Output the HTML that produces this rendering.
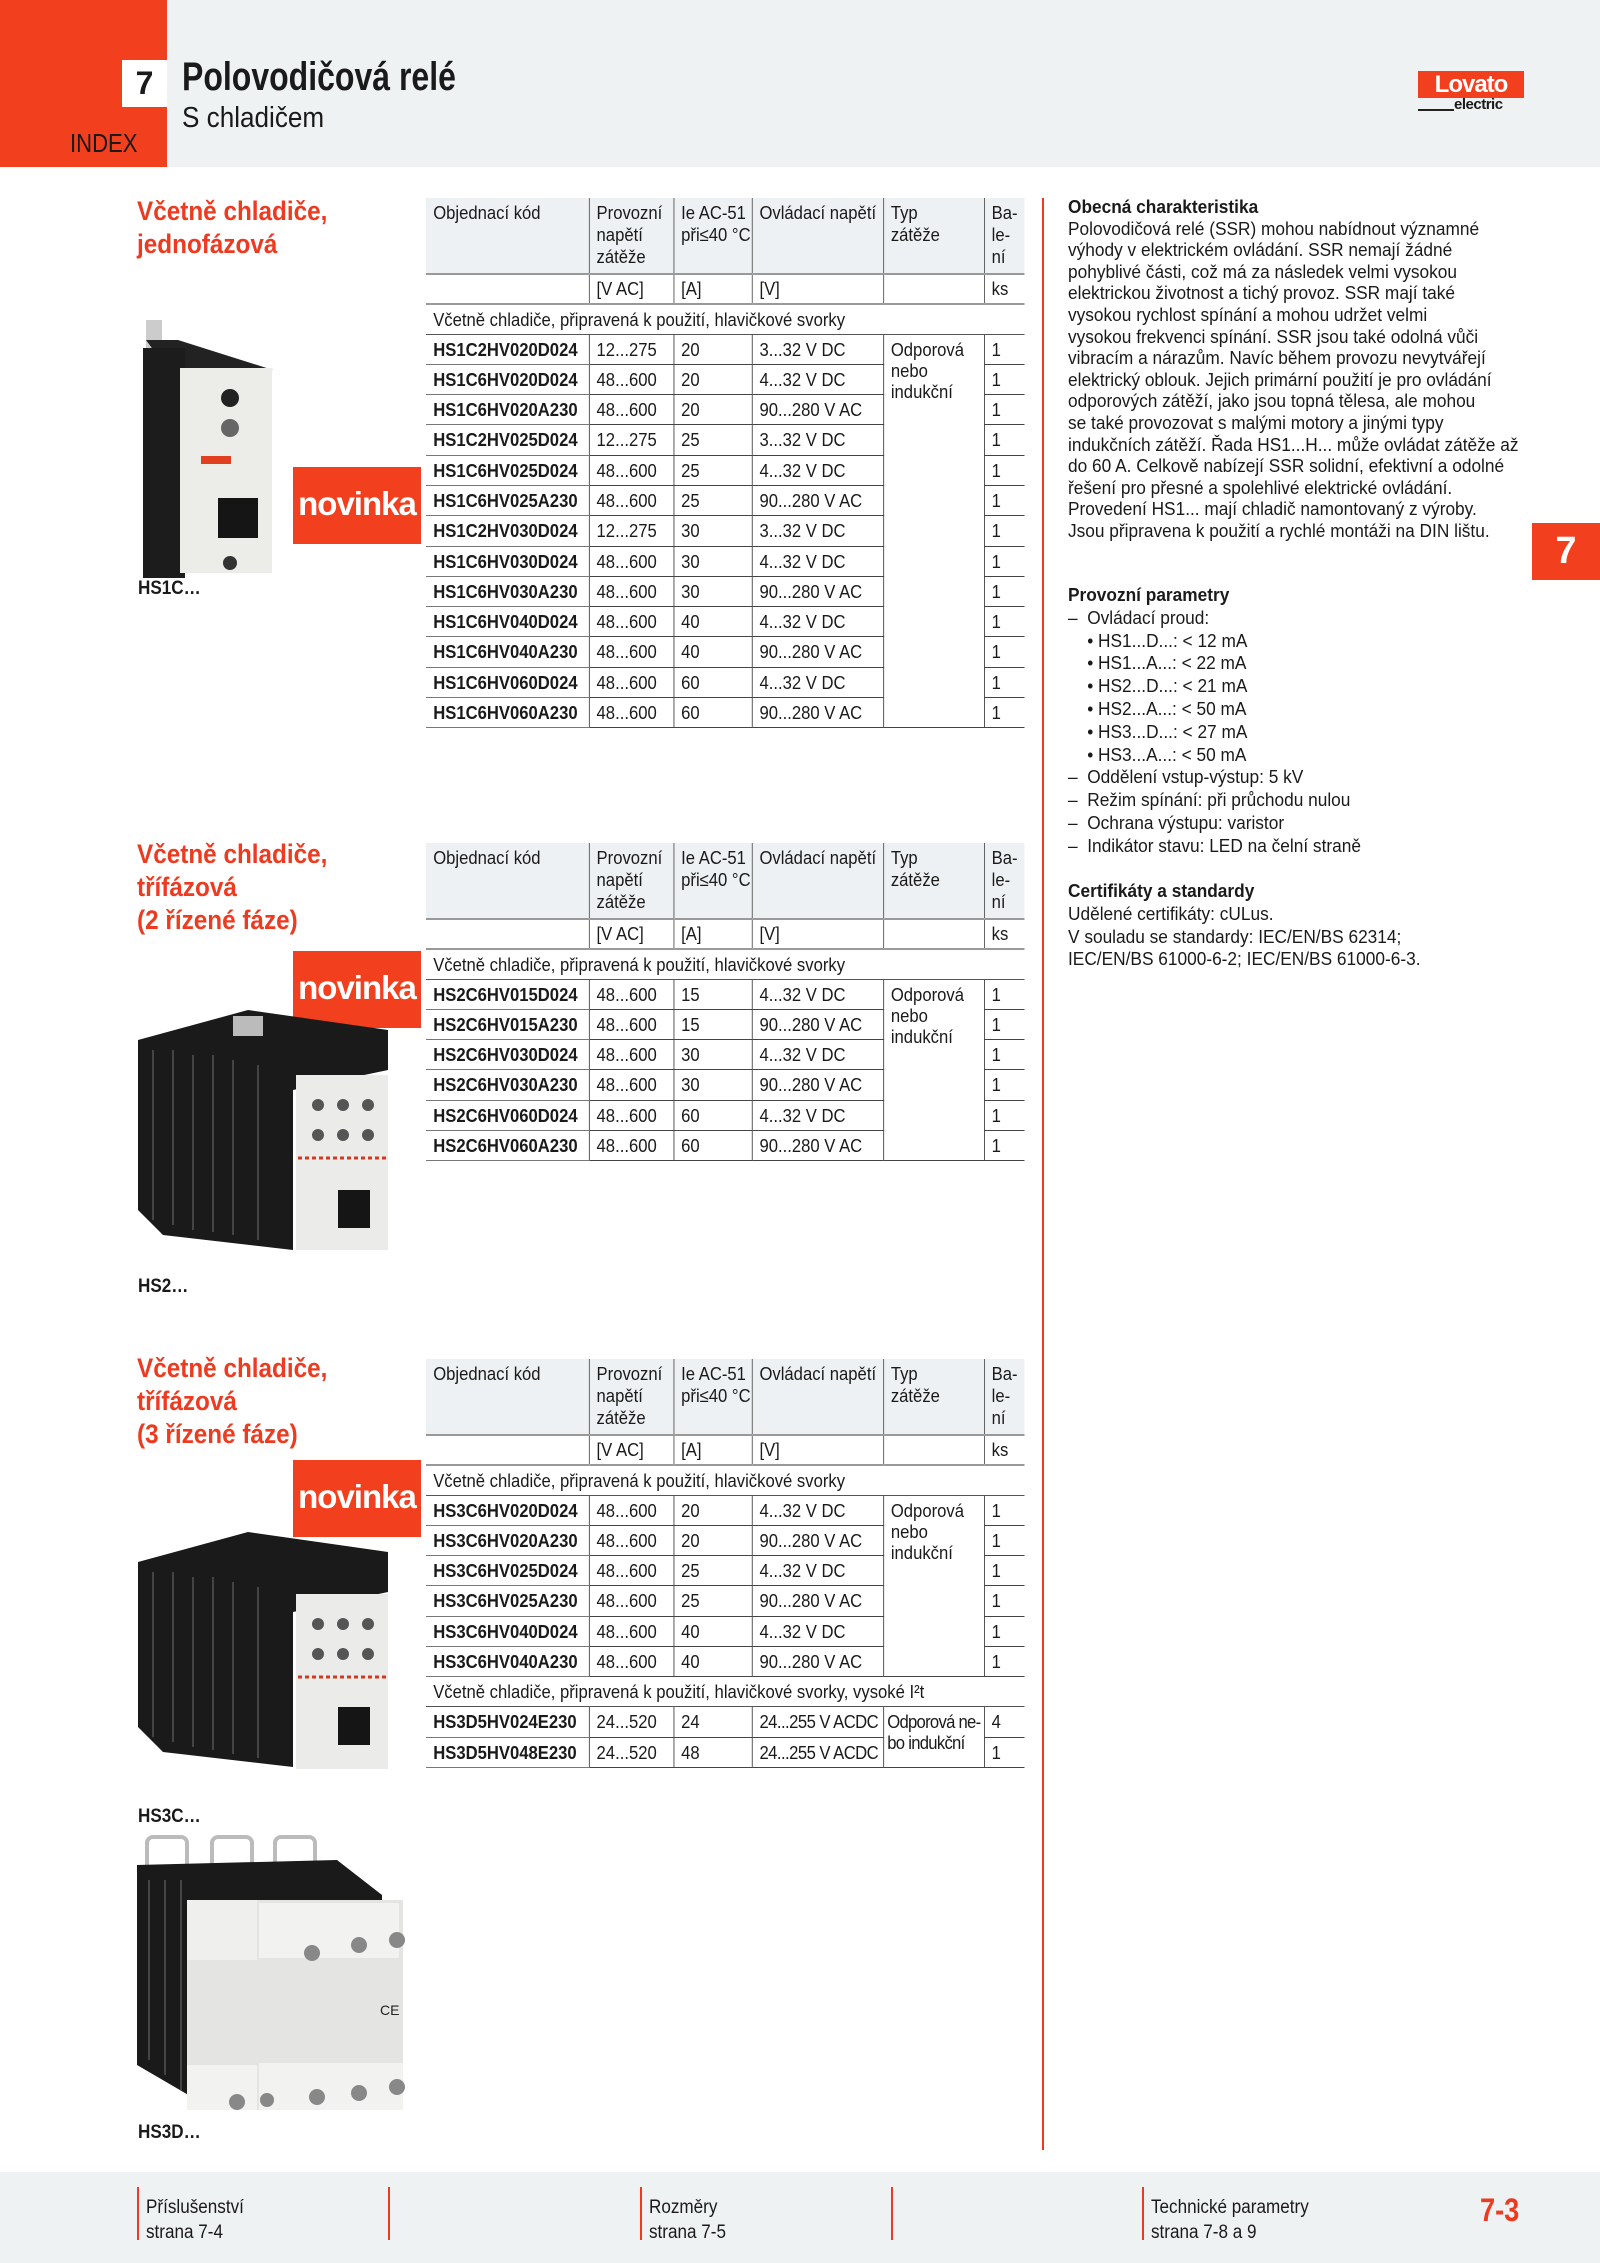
<!DOCTYPE html>
<html><head><meta charset="utf-8">
<style>
*{margin:0;padding:0;box-sizing:border-box}
body{width:1600px;height:2263px;position:relative;background:#fff;font-family:"Liberation Sans",sans-serif;color:#1a1a1a;overflow:hidden}
.a{position:absolute}
.sx{transform-origin:0 0;white-space:nowrap}
.h2{position:absolute;left:137px;font-weight:bold;font-size:27px;line-height:33px;color:#ee3a1f;transform:scaleX(.9);transform-origin:0 0;white-space:nowrap}
.nov{position:absolute;left:293px;width:128px;height:77px;background:#f2401e;color:#fff;font-weight:bold;font-size:33px;text-align:center;line-height:74px;letter-spacing:-1px}
.lbl{position:absolute;left:138px;font-weight:bold;font-size:19px;transform:scaleX(.9);transform-origin:0 0}
table{position:absolute;left:426px;width:665px;border-collapse:collapse;font-size:18.5px;table-layout:fixed;transform:scaleX(.9);transform-origin:0 0}
td{padding:0 0 0 8px;vertical-align:top;line-height:22px;white-space:nowrap;overflow:visible}
tr.hd td{background:#eef1f3;height:76px;padding-top:4px;border-right:1.5px solid #555;line-height:22px}
tr.hd td:last-child,tr.un td:last-child{border-right:none}
tr.un td{height:30px;border-top:2.5px solid #999;border-bottom:2.5px solid #999;border-right:1.5px solid #555;padding-top:3px}
tr.sec td{height:30px;border-bottom:1.5px solid #555;padding-top:4px}
tr.r td{height:30.3px;border-bottom:1.5px solid #444;border-right:1.5px solid #444;padding-top:4px}
tr.r td:last-child{border-right:none}
tr.r td.c{font-weight:bold;border-bottom:1.5px solid #777}
td.typ{line-height:21px;padding-top:5px}
.rt{position:absolute;left:1068px;font-size:18px;line-height:21.6px;white-space:nowrap;transform:scaleX(.96);transform-origin:0 0}
.rt2{position:absolute;left:1068px;font-size:18px;line-height:22.8px;white-space:nowrap;transform:scaleX(.96);transform-origin:0 0}
.b{font-weight:bold}
.ft{position:absolute;top:2195px;font-size:19px;line-height:25px;transform:scaleX(.9);transform-origin:0 0;white-space:nowrap}
.fl{position:absolute;top:2187px;width:1.5px;height:53px;background:#ee3a1f}
</style></head><body>
<!-- header -->
<div class="a" style="left:0;top:0;width:1600px;height:167px;background:#eff2f3"></div>
<div class="a" style="left:0;top:0;width:167px;height:167px;background:#f2401e"></div>
<div class="a" style="left:122px;top:60px;width:45px;height:47px;background:#fff;font-weight:bold;font-size:32px;line-height:47px;text-align:center">7</div>
<div class="a" style="left:70px;top:128px;font-size:26px;transform:scaleX(.85);transform-origin:0 0">INDEX</div>
<div class="a sx" style="left:182px;top:55px;font-weight:bold;font-size:40px;transform:scaleX(.8)">Polovodičová relé</div>
<div class="a sx" style="left:182px;top:102px;font-size:29px;transform:scaleX(.9)">S chladičem</div>
<div class="a" style="left:1418px;top:71px;width:106px;height:27px;background:#f2401e;color:#fff;font-weight:bold;font-size:24px;line-height:27px;text-align:center;letter-spacing:-1px">Lovato</div>
<div class="a" style="left:1418px;top:109px;width:36px;height:1.5px;background:#222"></div>
<div class="a" style="left:1454px;top:96px;font-weight:bold;font-size:15px;letter-spacing:-.5px">electric</div>

<!-- side tab & divider -->
<div class="a" style="left:1042px;top:198px;width:2px;height:1952px;background:#ee3a1f"></div>
<div class="a" style="left:1532px;top:523px;width:68px;height:57px;background:#f2401e;color:#fff;font-weight:bold;font-size:38px;text-align:center;line-height:57px">7</div>

<!-- section 1 -->
<div class="h2" style="top:195px">Včetně chladiče,<br>jednofázová</div>
<svg class="a" style="left:138px;top:318px" width="140" height="260">
<rect x="8" y="2" width="16" height="30" fill="#ccc"/>
<polygon points="8,22 40,22 135,52 30,52" fill="#222"/>
<rect x="5" y="30" width="42" height="230" fill="#1c1c1c"/>
<rect x="42" y="50" width="92" height="205" fill="#ecece8"/>
<circle cx="92" cy="80" r="9" fill="#222"/><circle cx="92" cy="110" r="9" fill="#666"/>
<rect x="63" y="138" width="30" height="8" fill="#e04020"/>
<rect x="80" y="180" width="40" height="40" fill="#151515"/>
<circle cx="92" cy="245" r="7" fill="#333"/>
</svg>
<div class="nov" style="top:467px">novinka</div>
<div class="lbl" style="top:578px">HS1C…</div>

<table style="top:198px">
<colgroup><col style="width:181px"><col style="width:94px"><col style="width:87px"><col style="width:146px"><col style="width:112px"><col style="width:45px"></colgroup>
<tr class="hd"><td>Objednací kód</td><td>Provozní<br>napětí<br>zátěže</td><td>Ie AC-51<br>při≤40 °C</td><td>Ovládací napětí</td><td>Typ<br>zátěže</td><td>Ba-<br>le-<br>ní</td></tr>
<tr class="un"><td></td><td>[V AC]</td><td>[A]</td><td>[V]</td><td></td><td>ks</td></tr>
<tr class="sec"><td colspan="6">Včetně chladiče, připravená k použití, hlavičkové svorky</td></tr>
<tr class="r"><td class="c">HS1C2HV020D024</td><td>12...275</td><td>20</td><td>3...32 V DC</td><td class="typ" rowspan="13">Odporová<br>nebo<br>indukční</td><td>1</td></tr>
<tr class="r"><td class="c">HS1C6HV020D024</td><td>48...600</td><td>20</td><td>4...32 V DC</td><td>1</td></tr>
<tr class="r"><td class="c">HS1C6HV020A230</td><td>48...600</td><td>20</td><td>90...280 V AC</td><td>1</td></tr>
<tr class="r"><td class="c">HS1C2HV025D024</td><td>12...275</td><td>25</td><td>3...32 V DC</td><td>1</td></tr>
<tr class="r"><td class="c">HS1C6HV025D024</td><td>48...600</td><td>25</td><td>4...32 V DC</td><td>1</td></tr>
<tr class="r"><td class="c">HS1C6HV025A230</td><td>48...600</td><td>25</td><td>90...280 V AC</td><td>1</td></tr>
<tr class="r"><td class="c">HS1C2HV030D024</td><td>12...275</td><td>30</td><td>3...32 V DC</td><td>1</td></tr>
<tr class="r"><td class="c">HS1C6HV030D024</td><td>48...600</td><td>30</td><td>4...32 V DC</td><td>1</td></tr>
<tr class="r"><td class="c">HS1C6HV030A230</td><td>48...600</td><td>30</td><td>90...280 V AC</td><td>1</td></tr>
<tr class="r"><td class="c">HS1C6HV040D024</td><td>48...600</td><td>40</td><td>4...32 V DC</td><td>1</td></tr>
<tr class="r"><td class="c">HS1C6HV040A230</td><td>48...600</td><td>40</td><td>90...280 V AC</td><td>1</td></tr>
<tr class="r"><td class="c">HS1C6HV060D024</td><td>48...600</td><td>60</td><td>4...32 V DC</td><td>1</td></tr>
<tr class="r"><td class="c">HS1C6HV060A230</td><td>48...600</td><td>60</td><td>90...280 V AC</td><td>1</td></tr>
</table>

<!-- section 2 -->
<div class="h2" style="top:838px">Včetně chladiče,<br>třífázová<br>(2 řízené fáze)</div>
<div class="nov" style="top:951px">novinka</div>
<svg class="a" style="left:138px;top:1010px" width="260" height="245">
<polygon points="0,30 110,0 250,20 250,60 155,80 155,240 25,225 0,200" fill="#1a1a1a"/>
<g stroke="#444" stroke-width="2"><line x1="15" y1="40" x2="15" y2="210"/><line x1="35" y1="40" x2="35" y2="215"/><line x1="55" y1="45" x2="55" y2="220"/><line x1="75" y1="45" x2="75" y2="222"/><line x1="95" y1="50" x2="95" y2="225"/><line x1="120" y1="55" x2="120" y2="230"/></g>
<rect x="95" y="6" width="30" height="20" fill="#bbb"/>
<rect x="158" y="65" width="92" height="175" fill="#ebebea"/>
<g fill="#555"><circle cx="180" cy="95" r="6"/><circle cx="205" cy="95" r="6"/><circle cx="230" cy="95" r="6"/><circle cx="180" cy="125" r="6"/><circle cx="205" cy="125" r="6"/><circle cx="230" cy="125" r="6"/></g>
<line x1="160" y1="148" x2="250" y2="148" stroke="#d03a20" stroke-width="3" stroke-dasharray="4 3"/>
<rect x="200" y="180" width="32" height="38" fill="#151515"/>
</svg>
<div class="lbl" style="top:1276px">HS2…</div>

<table style="top:843px">
<colgroup><col style="width:181px"><col style="width:94px"><col style="width:87px"><col style="width:146px"><col style="width:112px"><col style="width:45px"></colgroup>
<tr class="hd"><td>Objednací kód</td><td>Provozní<br>napětí<br>zátěže</td><td>Ie AC-51<br>při≤40 °C</td><td>Ovládací napětí</td><td>Typ<br>zátěže</td><td>Ba-<br>le-<br>ní</td></tr>
<tr class="un"><td></td><td>[V AC]</td><td>[A]</td><td>[V]</td><td></td><td>ks</td></tr>
<tr class="sec"><td colspan="6">Včetně chladiče, připravená k použití, hlavičkové svorky</td></tr>
<tr class="r"><td class="c">HS2C6HV015D024</td><td>48...600</td><td>15</td><td>4...32 V DC</td><td class="typ" rowspan="6">Odporová<br>nebo<br>indukční</td><td>1</td></tr>
<tr class="r"><td class="c">HS2C6HV015A230</td><td>48...600</td><td>15</td><td>90...280 V AC</td><td>1</td></tr>
<tr class="r"><td class="c">HS2C6HV030D024</td><td>48...600</td><td>30</td><td>4...32 V DC</td><td>1</td></tr>
<tr class="r"><td class="c">HS2C6HV030A230</td><td>48...600</td><td>30</td><td>90...280 V AC</td><td>1</td></tr>
<tr class="r"><td class="c">HS2C6HV060D024</td><td>48...600</td><td>60</td><td>4...32 V DC</td><td>1</td></tr>
<tr class="r"><td class="c">HS2C6HV060A230</td><td>48...600</td><td>60</td><td>90...280 V AC</td><td>1</td></tr>
</table>

<!-- section 3 -->
<div class="h2" style="top:1352px">Včetně chladiče,<br>třífázová<br>(3 řízené fáze)</div>
<div class="nov" style="top:1460px">novinka</div>
<svg class="a" style="left:138px;top:1532px" width="260" height="240">
<polygon points="0,30 110,0 250,20 250,60 155,80 155,235 25,220 0,195" fill="#1a1a1a"/>
<g stroke="#444" stroke-width="2"><line x1="15" y1="40" x2="15" y2="205"/><line x1="35" y1="40" x2="35" y2="210"/><line x1="55" y1="45" x2="55" y2="215"/><line x1="75" y1="45" x2="75" y2="218"/><line x1="95" y1="50" x2="95" y2="222"/><line x1="120" y1="55" x2="120" y2="226"/></g>
<rect x="158" y="62" width="92" height="175" fill="#ebebea"/>
<g fill="#555"><circle cx="180" cy="92" r="6"/><circle cx="205" cy="92" r="6"/><circle cx="230" cy="92" r="6"/><circle cx="180" cy="122" r="6"/><circle cx="205" cy="122" r="6"/><circle cx="230" cy="122" r="6"/></g>
<line x1="160" y1="145" x2="250" y2="145" stroke="#d03a20" stroke-width="3" stroke-dasharray="4 3"/>
<rect x="200" y="175" width="32" height="38" fill="#151515"/>
</svg>
<div class="lbl" style="top:1806px">HS3C…</div>
<svg class="a" style="left:137px;top:1835px" width="270" height="280">
<rect x="10" y="2" width="40" height="40" rx="6" fill="none" stroke="#bbb" stroke-width="4"/>
<rect x="75" y="2" width="40" height="40" rx="6" fill="none" stroke="#bbb" stroke-width="4"/>
<rect x="138" y="2" width="40" height="40" rx="6" fill="none" stroke="#bbb" stroke-width="4"/>
<polygon points="0,30 200,25 245,60 245,90 60,100 60,265 0,230" fill="#1a1a1a"/>
<g stroke="#444" stroke-width="2"><line x1="12" y1="45" x2="12" y2="225"/><line x1="28" y1="45" x2="28" y2="240"/><line x1="44" y1="45" x2="44" y2="255"/></g>
<rect x="50" y="65" width="216" height="210" fill="#e4e4e2"/>
<rect x="50" y="65" width="70" height="60" fill="#efefed"/>
<rect x="122" y="68" width="140" height="55" fill="#f2f2f0"/>
<rect x="50" y="230" width="70" height="45" fill="#f2f2f0"/><rect x="122" y="228" width="144" height="47" fill="#f2f2f0"/>
<g fill="#888"><circle cx="175" cy="118" r="8"/><circle cx="222" cy="110" r="8"/><circle cx="260" cy="105" r="8"/><circle cx="100" cy="267" r="8"/><circle cx="130" cy="265" r="7"/><circle cx="180" cy="262" r="8"/><circle cx="222" cy="258" r="8"/><circle cx="260" cy="252" r="8"/></g>
<text x="243" y="180" font-size="14" font-family="Liberation Sans" fill="#222">CE</text>
</svg>
<div class="lbl" style="top:2122px">HS3D…</div>

<table style="top:1359px">
<colgroup><col style="width:181px"><col style="width:94px"><col style="width:87px"><col style="width:146px"><col style="width:112px"><col style="width:45px"></colgroup>
<tr class="hd"><td>Objednací kód</td><td>Provozní<br>napětí<br>zátěže</td><td>Ie AC-51<br>při≤40 °C</td><td>Ovládací napětí</td><td>Typ<br>zátěže</td><td>Ba-<br>le-<br>ní</td></tr>
<tr class="un"><td></td><td>[V AC]</td><td>[A]</td><td>[V]</td><td></td><td>ks</td></tr>
<tr class="sec"><td colspan="6">Včetně chladiče, připravená k použití, hlavičkové svorky</td></tr>
<tr class="r"><td class="c">HS3C6HV020D024</td><td>48...600</td><td>20</td><td>4...32 V DC</td><td class="typ" rowspan="6">Odporová<br>nebo<br>indukční</td><td>1</td></tr>
<tr class="r"><td class="c">HS3C6HV020A230</td><td>48...600</td><td>20</td><td>90...280 V AC</td><td>1</td></tr>
<tr class="r"><td class="c">HS3C6HV025D024</td><td>48...600</td><td>25</td><td>4...32 V DC</td><td>1</td></tr>
<tr class="r"><td class="c">HS3C6HV025A230</td><td>48...600</td><td>25</td><td>90...280 V AC</td><td>1</td></tr>
<tr class="r"><td class="c">HS3C6HV040D024</td><td>48...600</td><td>40</td><td>4...32 V DC</td><td>1</td></tr>
<tr class="r"><td class="c">HS3C6HV040A230</td><td>48...600</td><td>40</td><td>90...280 V AC</td><td>1</td></tr>
<tr class="sec"><td colspan="6">Včetně chladiče, připravená k použití, hlavičkové svorky, vysoké I²t</td></tr>
<tr class="r"><td class="c">HS3D5HV024E230</td><td>24...520</td><td>24</td><td style="letter-spacing:-.6px">24...255 V ACDC</td><td class="typ" rowspan="2" style="padding-left:4px;letter-spacing:-.8px">Odporová ne-<br>bo indukční</td><td>4</td></tr>
<tr class="r"><td class="c">HS3D5HV048E230</td><td>24...520</td><td>48</td><td style="letter-spacing:-.6px">24...255 V ACDC</td><td>1</td></tr>
</table>

<!-- right column -->
<div class="rt" style="top:197px"><span class="b">Obecná charakteristika</span><br>Polovodičová relé (SSR) mohou nabídnout významné<br>výhody v elektrickém ovládání. SSR nemají žádné<br>pohyblivé části, což má za následek velmi vysokou<br>elektrickou životnost a tichý provoz. SSR mají také<br>vysokou rychlost spínání a mohou udržet velmi<br>vysokou frekvenci spínání. SSR jsou také odolná vůči<br>vibracím a nárazům. Navíc během provozu nevytvářejí<br>elektrický oblouk. Jejich primární použití je pro ovládání<br>odporových zátěží, jako jsou topná tělesa, ale mohou<br>se také provozovat s malými motory a jinými typy<br>indukčních zátěží. Řada HS1...H... může ovládat zátěže až<br>do 60 A. Celkově nabízejí SSR solidní, efektivní a odolné<br>řešení pro přesné a spolehlivé elektrické ovládání.<br>Provedení HS1... mají chladič namontovaný z výroby.<br>Jsou připravena k použití a rychlé montáži na DIN lištu.</div>
<div class="rt2" style="top:584px"><span class="b">Provozní parametry</span><br>–&nbsp;&nbsp;Ovládací proud:<br>&nbsp;&nbsp;&nbsp;&nbsp;• HS1...D...: &lt; 12 mA<br>&nbsp;&nbsp;&nbsp;&nbsp;• HS1...A...: &lt; 22 mA<br>&nbsp;&nbsp;&nbsp;&nbsp;• HS2...D...: &lt; 21 mA<br>&nbsp;&nbsp;&nbsp;&nbsp;• HS2...A...: &lt; 50 mA<br>&nbsp;&nbsp;&nbsp;&nbsp;• HS3...D...: &lt; 27 mA<br>&nbsp;&nbsp;&nbsp;&nbsp;• HS3...A...: &lt; 50 mA<br>–&nbsp;&nbsp;Oddělení vstup-výstup: 5 kV<br>–&nbsp;&nbsp;Režim spínání: při průchodu nulou<br>–&nbsp;&nbsp;Ochrana výstupu: varistor<br>–&nbsp;&nbsp;Indikátor stavu: LED na čelní straně</div>
<div class="rt2" style="top:880px"><span class="b">Certifikáty a standardy</span><br>Udělené certifikáty: cULus.<br>V souladu se standardy: IEC/EN/BS 62314;<br>IEC/EN/BS 61000-6-2; IEC/EN/BS 61000-6-3.</div>

<!-- footer -->
<div class="a" style="left:0;top:2172px;width:1600px;height:91px;background:#eff2f3"></div>
<div class="fl" style="left:137px"></div><div class="fl" style="left:388px"></div><div class="fl" style="left:640px"></div><div class="fl" style="left:891px"></div><div class="fl" style="left:1142px"></div>
<div class="ft" style="left:146px">Příslušenství<br>strana 7-4</div>
<div class="ft" style="left:649px">Rozměry<br>strana 7-5</div>
<div class="ft" style="left:1151px">Technické parametry<br>strana 7-8 a 9</div>
<div class="a" style="left:1480px;top:2192px;font-weight:bold;font-size:32px;color:#ee3a1f;transform:scaleX(.85);transform-origin:0 0">7-3</div>
</body></html>
